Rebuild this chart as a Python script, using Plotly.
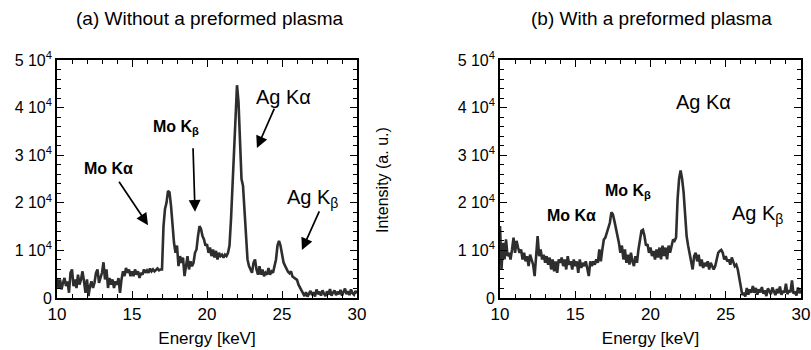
import plotly.graph_objects as go

W, H = 811, 350

energy = [
    10.0, 10.1, 10.2, 10.3, 10.4, 10.5, 10.6, 10.7, 10.8, 10.9,
    11.0, 11.1, 11.2, 11.3, 11.4, 11.5, 11.6, 11.7, 11.8, 11.9,
    12.0, 12.1, 12.2, 12.3, 12.4, 12.5, 12.6, 12.7, 12.8, 12.9,
    13.0, 13.1, 13.2, 13.3, 13.4, 13.5, 13.6, 13.7, 13.8, 13.9,
    14.0, 14.1, 14.2, 14.3, 14.4, 14.5, 14.6, 14.7, 14.8, 14.9,
    15.0, 15.1, 15.2, 15.3, 15.4, 15.5, 15.6, 15.7, 15.8, 15.9,
    16.0, 16.1, 16.2, 16.3, 16.4, 16.5, 16.6, 16.7, 16.8, 16.9,
    17.0, 17.1, 17.2, 17.3, 17.4, 17.5, 17.6, 17.7, 17.8, 17.9,
    18.0, 18.1, 18.2, 18.3, 18.4, 18.5, 18.6, 18.7, 18.8, 18.9,
    19.0, 19.1, 19.2, 19.3, 19.4, 19.5, 19.6, 19.7, 19.8, 19.9,
    20.0, 20.1, 20.2, 20.3, 20.4, 20.5, 20.6, 20.7, 20.8, 20.9,
    21.0, 21.1, 21.2, 21.3, 21.4, 21.5, 21.6, 21.7, 21.8, 21.9,
    22.0, 22.1, 22.2, 22.3, 22.4, 22.5, 22.6, 22.7, 22.8, 22.9,
    23.0, 23.1, 23.2, 23.3, 23.4, 23.5, 23.6, 23.7, 23.8, 23.9,
    24.0, 24.1, 24.2, 24.3, 24.4, 24.5, 24.6, 24.7, 24.8, 24.9,
    25.0, 25.1, 25.2, 25.3, 25.4, 25.5, 25.6, 25.7, 25.8, 25.9,
    26.0, 26.1, 26.2, 26.3, 26.4, 26.5, 26.6, 26.7, 26.8, 26.9,
    27.0, 27.1, 27.2, 27.3, 27.4, 27.5, 27.6, 27.7, 27.8, 27.9,
    28.0, 28.1, 28.2, 28.3, 28.4, 28.5, 28.6, 28.7, 28.8, 28.9,
    29.0, 29.1, 29.2, 29.3, 29.4, 29.5, 29.6, 29.7, 29.8, 29.9,
    30.0,
]

# (a) Without a preformed plasma
intensity_a = [
    4200, 2100, 3900, 1800, 3200, 4200, 2500, 3500, 1100, 5300,
    6000, 2500, 3900, 2100, 4900, 2800, 3900, 5600, 3500, 1100,
    3900, 400, 2500, 3500, 2100, 3200, 5300, 6000, 3200, 4600,
    5300, 7500, 3900, 6000, 2100, 4200, 2800, 3900, 2100, 3500,
    2800, 4200, 1100, 3900, 5600, 4600, 6300, 5300, 6000, 4600,
    5600, 4600, 6000, 4900, 5600, 4200, 5300, 4900, 6000, 5300,
    5800, 5300, 6200, 5600, 6000, 5600, 6000, 6200, 5800, 6000,
    6000, 15100, 18700, 20000, 22500, 22200, 19400, 15100, 11600, 9500,
    11000, 6700, 8800, 7400, 8500, 4600, 7400, 8800, 6000, 7700,
    6700, 7400, 9500, 10200, 13000, 15100, 14500, 13000, 12300, 11000,
    11300, 9500, 10600, 8800, 10200, 8500, 9900, 8100, 9500, 8800,
    9100, 8500, 9100, 8800, 9500, 11000, 16500, 24300, 31300, 38400,
    44700, 41200, 30600, 25000, 23600, 18000, 11600, 8100, 6700, 6000,
    5300, 7400, 8100, 6000, 4900, 6700, 4900, 6000, 4600, 5300,
    4900, 6300, 4900, 5600, 5300, 6700, 8100, 11000, 12000, 11000,
    9000, 7500, 6800, 6000, 5500, 5200, 5600, 4500, 4200, 4000,
    3800, 2800, 2200, 1500, 900, 400, 1200, 300, 900, 1500,
    600, 1200, 300, 1800, 800, 1300, 500, 1600, 900, 400,
    1400, 700, 1900, 500, 1100, 1600, 600, 1300, 800, 1700,
    500, 1200, 2000, 800, 1400, 600, 1800, 1000, 700, 1500,
    1000,
]

# (b) With a preformed plasma
intensity_b = [
    15100, 6000, 11600, 8100, 12300, 8800, 9500, 8100, 10200, 12700,
    9500, 12000, 10600, 9500, 10200, 8100, 9500, 7700, 8800, 6700,
    9100, 8100, 7000, 4600, 9500, 13000, 8800, 10200, 8100, 9100,
    7400, 8800, 7000, 8500, 6000, 8100, 5600, 7700, 5300, 8100,
    7400, 8500, 6700, 8100, 6000, 8800, 7000, 7700, 6000, 8100,
    6700, 7700, 5300, 8100, 6300, 7400, 6700, 7700, 6200, 4600,
    7700, 6700, 7700, 7000, 8100, 7400, 10200, 7700, 10200, 12300,
    12700, 13700, 15100, 15800, 18000, 17600, 16200, 14800, 13000, 11600,
    9500, 11000, 8100, 10200, 7400, 9100, 7000, 9500, 7700, 6700,
    8800, 7400, 10200, 12300, 14100, 14300, 13000, 11000, 11300, 9500,
    10600, 8800, 9900, 8100, 10200, 8500, 10600, 8100, 11000, 8800,
    10600, 8100, 11000, 9500, 11300, 12300, 12000, 12700, 20800, 25000,
    26800, 25000, 22200, 18000, 13000, 11000, 9500, 8100, 6000, 8800,
    9500, 7700, 9100, 6700, 8100, 6300, 7400, 6700, 7700, 6000,
    7400, 6700, 6000, 6700, 8100, 9500, 9900, 10100, 9500, 8100,
    8800, 7700, 8100, 7000, 8500, 7700, 6700, 7000, 6000, 4200,
    2000, 600, 1100, 300, 2100, 700, 1800, 1100, 2500, 1100,
    2100, 700, 1800, 1200, 2300, 900, 1600, 400, 2000, 1300,
    800, 2200, 1400, 600, 1900, 1000, 2400, 700, 1500, 1100,
    3000, 800, 1600, 1200, 3700, 900, 1400, 500, 2200, 1000,
    1800,
]

x_ticks = [10, 15, 20, 25, 30]
y_ticks = [0, 10000, 20000, 30000, 40000, 50000]
y_ticktext = ["0", "1 10<sup>4</sup>", "2 10<sup>4</sup>", "3 10<sup>4</sup>",
              "4 10<sup>4</sup>", "5 10<sup>4</sup>"]

titles = ["(a) Without a preformed plasma", "(b) With a preformed plasma"]
x_title = "Energy [keV]"
y_title = "Intensity (a. u.)"

FONT = "Liberation Sans, Arial, Helvetica, sans-serif"
LINE = "#2e2e2e"

def px(x):
    return x / W

def py(y):
    return 1 - y / H

fig = go.Figure()
fig.add_trace(go.Scatter(x=energy, y=intensity_a, mode="lines",
                         line=dict(color=LINE, width=2.6), xaxis="x", yaxis="y",
                         showlegend=False))
fig.add_trace(go.Scatter(x=energy, y=intensity_b, mode="lines",
                         line=dict(color=LINE, width=2.6), xaxis="x2", yaxis="y2",
                         showlegend=False))

def xax(domain, anchor):
    return dict(domain=domain, anchor=anchor, range=[10, 30], tickvals=x_ticks,
                ticks="inside", ticklen=7, tickwidth=1.3, tickcolor="black",
                minor=dict(dtick=1, tick0=10, ticks="inside", ticklen=4,
                           tickwidth=1.2, tickcolor="black"),
                showline=True, linecolor="black", linewidth=1.6, mirror="ticks",
                showgrid=False, zeroline=False,
                tickfont=dict(family=FONT, size=17, color="black"),
                title=dict(text=x_title, font=dict(family=FONT, size=17, color="black"),
                           standoff=9))

def yax(domain, anchor):
    return dict(domain=domain, anchor=anchor, range=[0, 50000], tickvals=y_ticks,
                ticktext=y_ticktext,
                ticks="inside", ticklen=7, tickwidth=1.3, tickcolor="black",
                minor=dict(dtick=2000, tick0=0, ticks="inside", ticklen=4,
                           tickwidth=1.2, tickcolor="black"),
                showline=True, linecolor="black", linewidth=1.6, mirror="ticks",
                showgrid=False, zeroline=False,
                tickfont=dict(family=FONT, size=16, color="black"))

ydom = [py(298), py(60)]
layout = dict(
    width=W, height=H, margin=dict(l=0, r=0, t=0, b=0, autoexpand=False),
    paper_bgcolor="white", plot_bgcolor="white",
    xaxis=xax([px(57), px(357)], "y"),
    yaxis=yax(ydom, "x"),
    xaxis2=xax([px(500), px(801)], "y2"),
    yaxis2=yax(ydom, "x2"),
    font=dict(family=FONT, color="black"),
)
fig.update_layout(**layout)

center = dict(xanchor="center", yanchor="middle")
ann = []
# panel titles
ann.append(dict(text=titles[0], x=px(210), y=py(19), xref="paper", yref="paper",
                showarrow=False, font=dict(size=19, family=FONT), **center))
ann.append(dict(text=titles[1], x=px(651), y=py(19), xref="paper", yref="paper",
                showarrow=False, font=dict(size=19, family=FONT), **center))
# y title
ann.append(dict(text=y_title, x=px(383), y=py(180), xref="paper", yref="paper",
                textangle=-90, showarrow=False, font=dict(size=16, family=FONT), **center))

# labels, panel (a)
lab_bold = dict(size=16, family=FONT)
lab_big = dict(size=20, family=FONT)
ann += [
    dict(text="<b>Mo Kα</b>", x=13.4, y=27300, xref="x", yref="y", showarrow=False, font=lab_bold),
    dict(text="<b>Mo K<sub>β</sub></b>", x=17.9, y=35800, xref="x", yref="y", showarrow=False, font=lab_bold),
    dict(text="Ag Kα", x=25.1, y=42200, xref="x", yref="y", showarrow=False, font=lab_big),
    dict(text="Ag K<sub>β</sub>", x=27.0, y=20800, xref="x", yref="y", showarrow=False, font=lab_big),
]
# arrows, panel (a)
arrow = dict(text="", showarrow=True, arrowhead=2, arrowsize=1.4, arrowwidth=1.7,
             arrowcolor="black", xref="x", yref="y")
ann += [
    dict(x=16.07, y=15300, ax=-30, ay=-45, **arrow),
    dict(x=19.2, y=18100, ax=-2, ay=-65, **arrow),
    dict(x=23.33, y=31500, ax=18, ay=-41, **arrow),
    dict(x=26.33, y=10100, ax=18, ay=-40, **arrow),
]
# labels, panel (b)
ann += [
    dict(text="<b>Mo Kα</b>", x=14.72, y=17400, xref="x2", yref="y2", showarrow=False, font=lab_bold),
    dict(text="<b>Mo K<sub>β</sub></b>", x=18.5, y=22300, xref="x2", yref="y2", showarrow=False, font=lab_bold),
    dict(text="Ag Kα", x=23.55, y=41200, xref="x2", yref="y2", showarrow=False, font=lab_big),
    dict(text="Ag K<sub>β</sub>", x=27.1, y=17600, xref="x2", yref="y2", showarrow=False, font=lab_big),
]
fig.update_layout(annotations=ann)

fig.write_html("out.html", config={"displayModeBar": False},
               post_script="document.body.style.margin='0';")
